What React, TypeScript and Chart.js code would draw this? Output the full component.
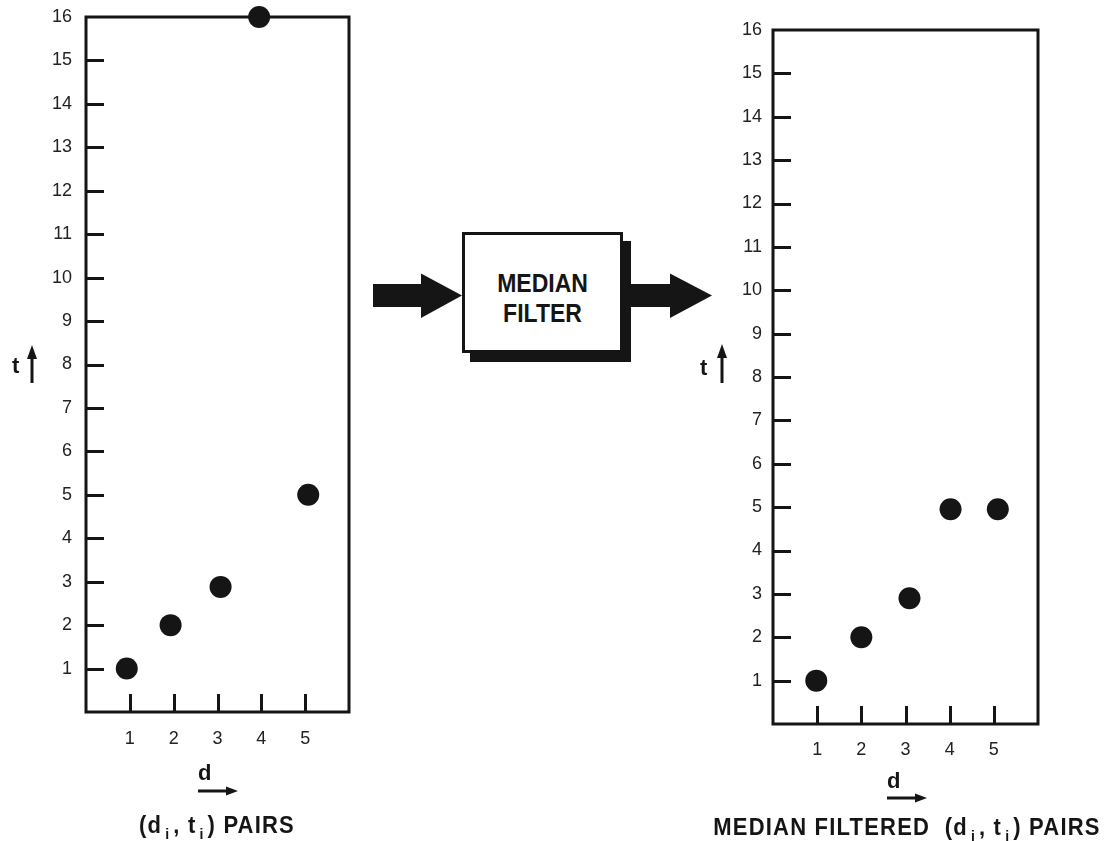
import React, { useEffect, useRef } from "react";
import { Chart, registerables } from "chart.js";

Chart.register(...registerables);

// ---- data ----
const xTickValues = [1, 2, 3, 4, 5];
const yTickValues = [1, 2, 3, 4, 5, 6, 7, 8, 9, 10, 11, 12, 13, 14, 15, 16];
const rawD = [0.93, 1.93, 3.07, 3.95, 5.07];
const rawT = [1, 2, 2.88, 16, 5];
const filteredD = [0.98, 2.0, 3.09, 4.02, 5.09];
const filteredT = [1, 2, 2.9, 4.95, 4.95];
const leftTitle = "PAIRS";
const rightTitlePrefix = "MEDIAN FILTERED";
const filterLines = ["MEDIAN", "FILTER"];

const INK = "#151515";
const FONT = "'Liberation Sans', Arial, Helvetica, sans-serif";

type Geom = {
  offsetTop: number; // canvas top on page
  canvasW: number;
  canvasH: number;
  left: number; // chart area left within canvas
  right: number; // chart area right within canvas
  top: number;
  bottom: number;
  yPad: number;
  xPad: number;
};

const framePlugin = {
  id: "frameTicks",
  beforeDatasetsDraw(chart: any) {
    const { ctx, chartArea: a, scales } = chart;
    ctx.save();
    ctx.strokeStyle = INK;
    ctx.lineWidth = 3;
    ctx.lineCap = "butt";
    ctx.beginPath();
    yTickValues
      .filter((v) => v < 16)
      .forEach((v) => {
        const y = Math.round(scales.y.getPixelForValue(v)) + 0.5;
        ctx.moveTo(a.left, y);
        ctx.lineTo(a.left + 18, y);
      });
    xTickValues.forEach((v) => {
      const x = Math.round(scales.x.getPixelForValue(v)) + 0.5;
      ctx.moveTo(x, a.bottom);
      ctx.lineTo(x, a.bottom - 18);
    });
    ctx.stroke();
    ctx.lineWidth = 3;
    ctx.strokeRect(a.left, a.top, a.right - a.left, a.bottom - a.top);
    ctx.restore();
  },
};

function ScatterPanel({ d, t, g }: { d: number[]; t: number[]; g: Geom }) {
  const ref = useRef<HTMLCanvasElement | null>(null);
  useEffect(() => {
    if (!ref.current) return;
    const chart = new Chart(ref.current, {
      type: "scatter",
      data: {
        datasets: [
          {
            data: d.map((x, i) => ({ x, y: t[i] })),
            backgroundColor: INK,
            borderColor: INK,
            pointRadius: 11,
            pointHoverRadius: 11,
            borderWidth: 0,
            clip: false as any,
          },
        ],
      },
      options: {
        responsive: false,
        animation: false,
        events: [],
        layout: {
          padding: { left: 0, top: g.top, right: g.canvasW - g.right, bottom: 0 },
        },
        plugins: { legend: { display: false }, tooltip: { enabled: false }, title: { display: false } },
        scales: {
          x: {
            type: "linear",
            min: 0,
            max: 6,
            grid: { display: false, drawTicks: false },
            border: { display: false },
            afterBuildTicks: (s: any) => {
              s.ticks = xTickValues.map((v) => ({ value: v }));
            },
            afterFit: (s: any) => {
              s.height = g.canvasH - g.bottom;
            },
            ticks: {
              padding: g.xPad,
              color: "#222",
              font: { family: FONT, size: 18 },
              maxRotation: 0,
              autoSkip: false,
            },
          },
          y: {
            type: "linear",
            min: 0,
            max: 16,
            grid: { display: false, drawTicks: false },
            border: { display: false },
            afterBuildTicks: (s: any) => {
              s.ticks = yTickValues.map((v) => ({ value: v }));
            },
            afterFit: (s: any) => {
              s.width = g.left;
            },
            ticks: {
              padding: g.yPad,
              color: "#222",
              font: { family: FONT, size: 18 },
              autoSkip: false,
            },
          },
        },
      },
      plugins: [framePlugin],
    });
    return () => chart.destroy();
  }, []);
  return (
    <canvas
      ref={ref}
      width={g.canvasW}
      height={g.canvasH}
      style={{ width: g.canvasW, height: g.canvasH, display: "block" }}
    />
  );
}

function UpArrow({ x, y1, y2 }: { x: number; y1: number; y2: number }) {
  return (
    <svg style={{ position: "absolute", left: x - 8, top: y1, overflow: "visible" }} width={16} height={y2 - y1}>
      <line x1={8} y1={12} x2={8} y2={y2 - y1} stroke={INK} strokeWidth={3} />
      <polygon points={`8,0 3,14 13,14`} fill={INK} />
    </svg>
  );
}

function RightArrowSmall({ x1, x2, y }: { x1: number; x2: number; y: number }) {
  return (
    <svg style={{ position: "absolute", left: x1, top: y - 6, overflow: "visible" }} width={x2 - x1} height={12}>
      <line x1={0} y1={6} x2={x2 - x1 - 10} y2={6} stroke={INK} strokeWidth={3} />
      <polygon points={`${x2 - x1},6 ${x2 - x1 - 12},1.5 ${x2 - x1 - 12},10.5`} fill={INK} />
    </svg>
  );
}

function BigArrow({ x1, xh, x2, yc }: { x1: number; xh: number; x2: number; yc: number }) {
  const w = x2 - x1;
  const hs = xh - x1;
  return (
    <svg style={{ position: "absolute", left: x1, top: yc - 24, overflow: "visible" }} width={w} height={48}>
      <polygon points={`0,12 ${hs},12 ${hs},1.5 ${w},23.5 ${hs},46 ${hs},35 0,35`} fill={INK} />
    </svg>
  );
}

function Title({ cx, top, prefix }: { cx: number; top: number; prefix?: string }) {
  const sub: React.CSSProperties = { fontSize: 14, position: "relative", top: 6, margin: "0 3px" };
  return (
    <div
      style={{
        position: "absolute",
        left: cx - 300,
        width: 600,
        top,
        textAlign: "center",
        fontFamily: FONT,
        fontWeight: "bold",
        fontSize: 22,
        letterSpacing: 1.2,
        color: INK,
        whiteSpace: "nowrap",
        lineHeight: "26px",
        transform: "scaleY(1.1)",
      }}
    >
      {prefix ? prefix + "\u00a0 " : ""}(d<span style={sub}>i</span>, t<span style={sub}>i</span>) {leftTitle}
    </div>
  );
}

export default function App() {
  const leftG: Geom = { offsetTop: -30, canvasW: 360, canvasH: 871, left: 86, right: 350, top: 47, bottom: 742, yPad: 14, xPad: 16 };
  const rightG: Geom = { offsetTop: 0, canvasW: 416, canvasH: 841, left: 83, right: 348, top: 30, bottom: 724, yPad: 11, xPad: 15 };
  const label: React.CSSProperties = {
    position: "absolute",
    fontFamily: FONT,
    fontWeight: "bold",
    fontSize: 22,
    color: INK,
    lineHeight: "24px",
  };
  return (
    <div style={{ position: "absolute", left: 0, top: 0, width: 1106, height: 841, background: "#fff", overflow: "hidden" }}>
      <div style={{ position: "absolute", left: 0, top: leftG.offsetTop }}>
        <ScatterPanel d={rawD} t={rawT} g={leftG} />
      </div>
      <div style={{ position: "absolute", left: 690, top: rightG.offsetTop }}>
        <ScatterPanel d={filteredD} t={filteredT} g={rightG} />
      </div>

      {/* left axis labels */}
      <div style={{ ...label, left: 12, top: 354 }}>t</div>
      <UpArrow x={32} y1={345} y2={383} />
      <div style={{ ...label, left: 198, top: 761 }}>d</div>
      <RightArrowSmall x1={198} x2={238} y={791} />
      <Title cx={217} top={812} />

      {/* right axis labels */}
      <div style={{ ...label, left: 700, top: 356 }}>t</div>
      <UpArrow x={722} y1={344} y2={383} />
      <div style={{ ...label, left: 887, top: 769 }}>d</div>
      <RightArrowSmall x1={887} x2={927} y={798} />
      <Title cx={907} top={814} prefix={rightTitlePrefix} />

      {/* median filter block */}
      <BigArrow x1={373} xh={421} x2={462} yc={296} />
      <div
        style={{
          position: "absolute",
          left: 462,
          top: 232,
          width: 161,
          height: 121,
          boxSizing: "border-box",
          border: `3px solid ${INK}`,
          background: "#fff",
          boxShadow: `8px 9px 0 ${INK}`,
          display: "flex",
          alignItems: "center",
          justifyContent: "center",
          paddingTop: 10,
        }}
      >
        <div
          style={{
            fontFamily: FONT,
            fontWeight: "bold",
            fontSize: 23,
            lineHeight: "26px",
            color: INK,
            textAlign: "center",
            transform: "scaleY(1.15)",
          }}
        >
          {filterLines.map((s) => (
            <div key={s}>{s}</div>
          ))}
        </div>
      </div>
      <BigArrow x1={631} xh={670} x2={712} yc={296} />
    </div>
  );
}
